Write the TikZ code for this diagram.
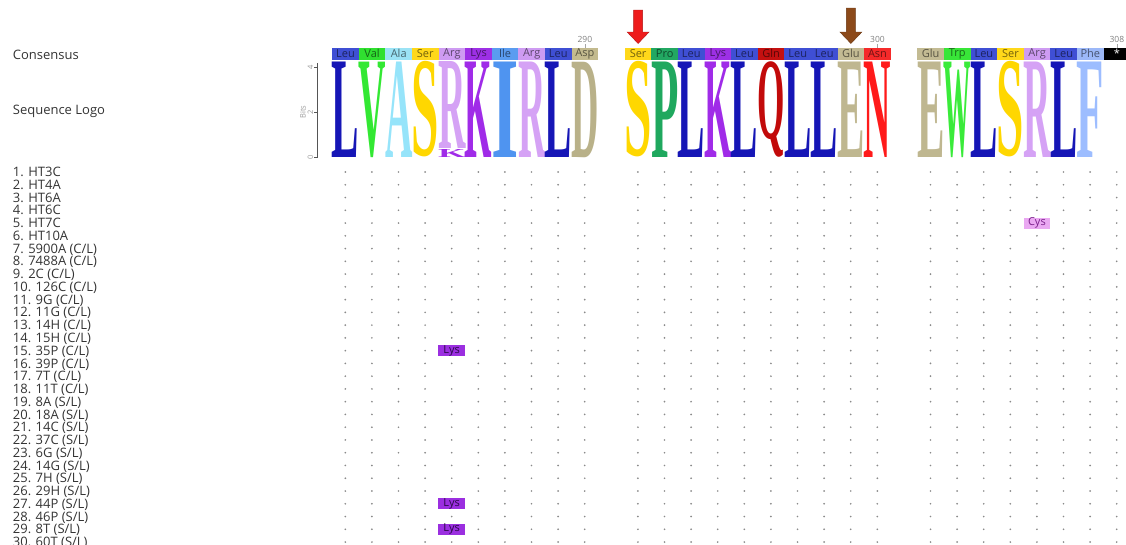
\documentclass[tikz,border=0pt]{standalone}
\usepackage{fontspec}
\usepackage{graphicx}
\setmainfont{Open Sans}
\newfontfamily\logofont{Liberation Serif}

% residue colours: box fill (consensus) and letter colour (logo)
\definecolor{Leu}{HTML}{3F4FD4}\definecolor{LeuL}{HTML}{1616B6}
\definecolor{Val}{HTML}{30E030}\definecolor{ValL}{HTML}{33E833}
\definecolor{Ala}{HTML}{9BE3F5}\definecolor{AlaL}{HTML}{96E4FA}
\definecolor{Ser}{HTML}{FFD81A}\definecolor{SerL}{HTML}{FFD700}
\definecolor{Arg}{HTML}{CE9BF2}\definecolor{ArgL}{HTML}{D5A2F5}
\definecolor{Lys}{HTML}{9D30E5}\definecolor{LysL}{HTML}{A02BE8}
\definecolor{Ile}{HTML}{5A9CF0}\definecolor{IleL}{HTML}{4F94F0}
\definecolor{Asp}{HTML}{C3BA8E}\definecolor{AspL}{HTML}{B9B189}
\definecolor{Pro}{HTML}{22A862}\definecolor{ProL}{HTML}{1FA85E}
\definecolor{Gln}{HTML}{C41010}\definecolor{GlnL}{HTML}{C20A0A}
\definecolor{Glu}{HTML}{C3BB93}\definecolor{GluL}{HTML}{BFB790}
\definecolor{Asn}{HTML}{F52A2A}\definecolor{AsnL}{HTML}{FF1A1A}
\definecolor{Trp}{HTML}{38E638}\definecolor{TrpL}{HTML}{3AEB3A}
\definecolor{Phe}{HTML}{9CB8F8}\definecolor{PheL}{HTML}{9DBDFF}
\definecolor{labelgray}{HTML}{333333}
\definecolor{dotgray}{HTML}{8A8A8A}
\definecolor{axisgray}{HTML}{555555}
\definecolor{arrowred}{HTML}{EE1C1C}
\definecolor{arrowbrown}{HTML}{8C4A1A}
\definecolor{cysbox}{HTML}{EAA8F2}
\definecolor{cystext}{HTML}{7A1E8A}
\definecolor{lysbox}{HTML}{9B2FE0}
\definecolor{lystext}{HTML}{2A0848}

\begin{document}
\begin{tikzpicture}[x=1pt,y=-1pt,
  conbox/.style={inner sep=0, minimum width=26.6pt, minimum height=12pt,
    anchor=north west, font=\fontsize{11}{12}\selectfont},
  rowlabel/.style={anchor=base west, inner sep=0,
    font=\fontsize{13}{13}\selectfont, text=labelgray},
  headlabel/.style={rowlabel},
  poslabel/.style={inner sep=0, font=\fontsize{8.5}{9}\selectfont, text=gray},
  axislabel/.style={inner sep=0, rotate=90, font=\fontsize{7.5}{8}\selectfont, text=gray!80},
  varbox/.style={inner sep=0, minimum width=26.6pt, minimum height=11pt,
    font=\fontsize{11}{11}\selectfont},
  logoletter/.style={inner sep=0, anchor=south west, xshift=-0.4pt}
]
\useasboundingbox (0,0) rectangle (1126,544);
\clip (0,0) rectangle (1126,544);

% row headings
\node[headlabel] (hcons) at (12.7,59) {Consensus};
\node[headlabel] (hlogo) at (12.7,114.5) {Sequence Logo};

% consensus bar
\foreach \c/\n in {0/Leu,1/Val,2/Ala,3/Ser,4/Arg,5/Lys,6/Ile,7/Arg,8/Leu,9/Asp,
                   11/Ser,12/Pro,13/Leu,14/Lys,15/Leu,16/Gln,17/Leu,18/Leu,19/Glu,20/Asn,
                   22/Glu,23/Trp,24/Leu,25/Ser,26/Arg,27/Leu,28/Phe}
  \node[conbox, fill=\n, text=\n!45!black] (cons\c) at ({332+26.6*\c},47.5) {\n};
\node[conbox, fill=black, text=white] (cons29) at ({332+26.6*29},47.5) {*};

% position numbers
\foreach \c/\p in {9/290,20/300,29/308}{
  \draw[gray!70, line width=0.5pt] (cons\c.north) -- ++(0,-4);
  \node[poslabel] (pos\c) at ([yshift=8.5pt]cons\c.north) {\p};
}

% sequence logo
\foreach \c/\n/\g in {0/Leu/L,1/Val/V,2/Ala/A,3/Ser/S,5/Lys/K,6/Ile/I,7/Arg/R,8/Leu/L,9/Asp/D,
                      11/Ser/S,12/Pro/P,13/Leu/L,14/Lys/K,15/Leu/L,16/Gln/Q,17/Leu/L,18/Leu/L,19/Glu/E,20/Asn/N,
                      22/Glu/E,23/Trp/W,24/Leu/L,25/Ser/S,26/Arg/R,27/Leu/L,28/Phe/F}
  \node[logoletter] (logo\c) at ({332+26.6*\c},157.5)
    {\resizebox*{27.4pt}{95.5pt}{\logofont\bfseries\textcolor{\n L}{\g}}};
\node[logoletter] (logo4k) at ({332+26.6*4},157.5)
  {\resizebox*{27.4pt}{8pt}{\logofont\bfseries\textcolor{LysL}{K}}};
\node[logoletter] (logo4) at ({332+26.6*4},149)
  {\resizebox*{27.4pt}{87pt}{\logofont\bfseries\textcolor{ArgL}{R}}};

% logo axis
\draw[axisgray, line width=0.6pt] (317,63) -- (317,158);
\foreach \yy/\t in {67/4,112/2,157/0}{
  \draw[axisgray, line width=0.5pt] (314,\yy) -- (317,\yy);
  \node[axislabel] (tick\t) at (310.5,\yy) {\t};
}
\node[axislabel] (bits) at (303,112) {Bits};

% alignment rows
\foreach \t [count=\k] in {HT3C,HT4A,HT6A,HT6C,HT7C,HT10A,{5900A (C/L)},{7488A (C/L)},
    {2C (C/L)},{126C (C/L)},{9G (C/L)},{11G (C/L)},{14H (C/L)},{15H (C/L)},{35P (C/L)},
    {39P (C/L)},{7T (C/L)},{11T (C/L)},{8A (S/L)},{18A (S/L)},{14C (S/L)},{37C (S/L)},
    {6G (S/L)},{14G (S/L)},{7H (S/L)},{29H (S/L)},{44P (S/L)},{46P (S/L)},{8T (S/L)},{60T (S/L)}}{
  \node[rowlabel] (row\k) at (12.7,{176.6+12.76*(\k-1)}) {\k. \t};
  \foreach \c in {0,...,9,11,12,...,20,22,23,...,29}
    \fill[dotgray] ({345.3+26.6*\c},{172+12.76*(\k-1)}) circle (0.95pt);
}

% substitutions
\node[varbox, fill=cysbox, text=cystext] (sub5) at ({345.3+26.6*26},{172+12.76*4}) {Cys};
\foreach \k in {15,27,29}
  \node[varbox, fill=lysbox, text=lystext] (sub\k) at ({345.3+26.6*4},{172+12.76*(\k-1)}) {Lys};

% marker arrows
\coordinate (tipser) at ([yshift=4pt]cons11.north);
\coordinate (tipglu) at ([yshift=4pt]cons19.north);
\filldraw[fill=arrowred, draw=arrowred!75!black, line width=0.4pt]
  (tipser) -- ++(-11,-11.5) -- ++(6.5,0) -- ++(0,-22) -- ++(9,0) -- ++(0,22) -- ++(6.5,0) -- cycle;
\filldraw[fill=arrowbrown, draw=arrowbrown!75!black, line width=0.4pt]
  (tipglu) -- ++(-11,-11.5) -- ++(6.5,0) -- ++(0,-24) -- ++(9,0) -- ++(0,24) -- ++(6.5,0) -- cycle;
\end{tikzpicture}
\end{document}
